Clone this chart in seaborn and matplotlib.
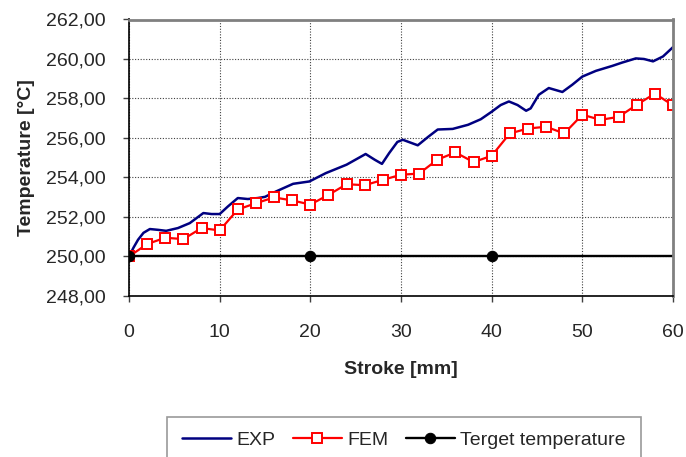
import matplotlib
matplotlib.use("Agg")
import matplotlib.pyplot as plt
import seaborn as sns
from matplotlib.ticker import FuncFormatter

# Measured temperature (EXP), sampled along the stroke
exp_stroke = [0, 0.5, 1.0, 1.6, 2.3, 3.2, 4.1, 5.4, 6.7, 8.2, 9.1, 10.0, 10.9, 12.0, 13.1,
              14.2, 15.0, 16.2, 18.1, 19.9, 21.7, 24.0, 26.1, 27.1, 27.9, 28.7,
              29.6, 30.2, 31.85, 33.0, 34.05, 35.7, 37.4, 38.8, 40.0, 41.0, 41.9,
              42.85, 43.8, 44.3, 45.2, 46.3, 47.8, 48.9, 50.0, 51.5, 53.3, 54.4,
              55.9, 56.8, 57.8, 58.9, 60.0]
exp_temp = [250.00, 250.45, 250.85, 251.20, 251.39, 251.35, 251.30, 251.44, 251.69,
            252.20, 252.15, 252.15, 252.53, 252.96, 252.91, 252.96, 253.02, 253.29,
            253.68, 253.80, 254.22, 254.65, 255.19, 254.90, 254.69, 255.24, 255.80,
            255.91, 255.63, 256.06, 256.43, 256.46, 256.67, 256.95, 257.33, 257.67,
            257.85, 257.67, 257.38, 257.50, 258.19, 258.53, 258.33, 258.70, 259.11,
            259.40, 259.65, 259.82, 260.03, 260.00, 259.88, 260.13, 260.60]

# Simulated temperature (FEM), every 2 mm
fem_stroke = list(range(0, 61, 2))
fem_temp = [250.00, 250.63, 250.95, 250.88, 251.44, 251.32, 252.38, 252.70, 252.99,
            252.84, 252.63, 253.12, 253.66, 253.61, 253.88, 254.14, 254.20, 254.90,
            255.27, 254.78, 255.10, 256.23, 256.48, 256.57, 256.23, 257.18, 256.92,
            257.07, 257.68, 258.25, 257.65]

# Target temperature
target_stroke = [0, 20, 40, 60]
target_temp = [250.0, 250.0, 250.0, 250.0]

x_ticks = [0, 10, 20, 30, 40, 50, 60]
y_ticks = [248, 250, 252, 254, 256, 258, 260, 262]

sns.set_theme(style="white")
plt.rcParams["font.family"] = ["Liberation Sans", "DejaVu Sans"]

fig = plt.figure(figsize=(6.86, 4.57), dpi=100)
ax = fig.add_axes([129 / 686, 1 - 296 / 457, (673 - 129) / 686, (296 - 19.5) / 457])

sns.lineplot(x=exp_stroke, y=exp_temp, ax=ax, color="#000080", linewidth=1.8,
             label="EXP", sort=False, solid_joinstyle="round", solid_capstyle="round")
sns.lineplot(x=fem_stroke, y=fem_temp, ax=ax, color="#ff0000", linewidth=1.6,
             marker="s", markersize=7.5, markerfacecolor="white",
             markeredgecolor="#ff0000", markeredgewidth=1.4, label="FEM", sort=False)
sns.lineplot(x=target_stroke, y=target_temp, ax=ax, color="black", linewidth=1.7,
             marker="o", markersize=7.5, markevery=[0, 1, 2], markeredgecolor="black",
             label="Terget temperature", sort=False)

ax.set_xlim(0, 60)
ax.set_ylim(248, 262)
ax.set_xticks(x_ticks)
ax.set_yticks(y_ticks)
ax.yaxis.set_major_formatter(FuncFormatter(lambda v, p: f"{v:.2f}".replace(".", ",")))
ax.xaxis.set_major_formatter(FuncFormatter(lambda v, p: f"{v:.0f}"))

ax.grid(True, which="major", linestyle=(0, (1, 1.5)), color="#404040", linewidth=0.8)
ax.set_axisbelow(True)

for side in ("top", "right"):
    ax.spines[side].set_color("#808080")
    ax.spines[side].set_linewidth(2)
for side in ("left", "bottom"):
    ax.spines[side].set_color("black")
    ax.spines[side].set_linewidth(1.2)

ax.tick_params(axis="both", which="major", direction="out", length=4.3, width=1,
               color="#404040", labelsize=14, left=True, bottom=True)
ax.tick_params(axis="y", pad=12.5)
ax.tick_params(axis="x", pad=16)

ax.set_xlabel("Stroke [mm]", fontsize=14, fontweight="bold", labelpad=14)
ax.set_ylabel("Temperature [°C]", fontsize=14, fontweight="bold", labelpad=8)

handles, labels = ax.get_legend_handles_labels()
ax.get_legend().remove()
leg = fig.legend(handles, labels, loc="center", bbox_to_anchor=(404 / 686, 1 - 440 / 457),
                 ncol=3, frameon=True, fancybox=False, fontsize=14, handlelength=2.5,
                 columnspacing=0.9, handletextpad=0.3, borderpad=0.75)
leg.get_frame().set_edgecolor("#808080")
leg.get_frame().set_linewidth(1.2)

fig.savefig("out.png", dpi=100)
